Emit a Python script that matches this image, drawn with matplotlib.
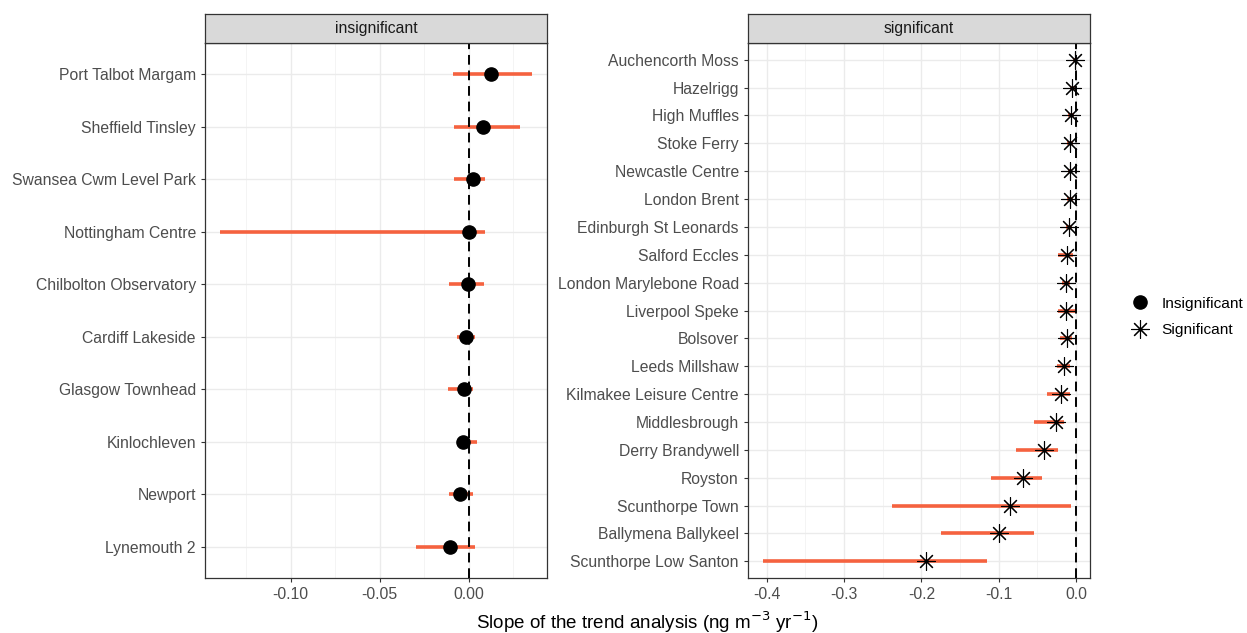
import numpy as np
import matplotlib
matplotlib.use('Agg')
import matplotlib.pyplot as plt
from matplotlib.lines import Line2D

plt.rcParams['font.family'] = ['Liberation Sans', 'DejaVu Sans']

# Insignificant sites (top to bottom)
insig_sites = ['Port Talbot Margam', 'Sheffield Tinsley', 'Swansea Cwm Level Park',
               'Nottingham Centre', 'Chilbolton Observatory', 'Cardiff Lakeside',
               'Glasgow Townhead', 'Kinlochleven', 'Newport', 'Lynemouth 2']
insig_slope = [0.0128, 0.0083, 0.0022, 0.0004, -0.0004, -0.0013, -0.0026, -0.0032, -0.0047, -0.0105]
insig_lo = [-0.0088, -0.0083, -0.0083, -0.1397, -0.0112, -0.0067, -0.0116, -0.0064, -0.0112, -0.0298]
insig_hi = [0.0354, 0.0288, 0.0092, 0.0092, 0.0086, 0.0034, 0.0026, 0.0049, 0.0022, 0.0034]

# Significant sites (top to bottom)
sig_sites = ['Auchencorth Moss', 'Hazelrigg', 'High Muffles', 'Stoke Ferry',
             'Newcastle Centre', 'London Brent', 'Edinburgh St Leonards', 'Salford Eccles',
             'London Marylebone Road', 'Liverpool Speke', 'Bolsover', 'Leeds Millshaw',
             'Kilmakee Leisure Centre', 'Middlesbrough', 'Derry Brandywell', 'Royston',
             'Scunthorpe Town', 'Ballymena Ballykeel', 'Scunthorpe Low Santon']
sig_slope = [-0.002, -0.005, -0.0065, -0.008, -0.008, -0.008, -0.009, -0.012,
             -0.013, -0.013, -0.012, -0.0155, -0.020, -0.026, -0.041, -0.069,
             -0.086, -0.100, -0.194]
sig_lo = [-0.004, -0.008, -0.010, -0.012, -0.011, -0.012, -0.013, -0.023,
          -0.018, -0.023, -0.021, -0.025, -0.038, -0.055, -0.077, -0.110,
          -0.238, -0.174, -0.404]
sig_hi = [-0.0005, -0.002, -0.003, -0.004, -0.005, -0.004, -0.005, -0.0035,
          -0.008, -0.001, -0.005, -0.008, -0.008, -0.0155, -0.024, -0.0445,
          -0.007, -0.054, -0.115]

W, H = 1247, 633
fig = plt.figure(figsize=(W / 100, H / 100), dpi=100)

err_col = '#F5623F'
tick_col = '#4D4D4D'
fs = 11.3


def panel(x0, x1, sites, slope, lo, hi, marker, ms, mew, xlim, major, minor, fmt, title):
    ax = fig.add_axes([x0 / W, 1 - 578 / H, (x1 - x0) / W, (578 - 43) / H])
    n = len(sites)
    y = np.arange(n)[::-1]
    ax.set_xlim(*xlim)
    ax.set_ylim(-0.6, n - 0.4)
    ax.set_xticks(major)
    ax.set_xticks(minor, minor=True)
    ax.set_xticklabels([fmt.format(v) for v in major])
    ax.set_yticks(y)
    ax.set_yticklabels(sites)
    ax.grid(which='major', color='#EBEBEB', lw=1.0, zorder=0)
    ax.grid(which='minor', axis='x', color='#F2F2F2', lw=0.6, zorder=0)
    ax.set_axisbelow(True)
    ax.hlines(y, lo, hi, color=err_col, lw=2.6, zorder=2)
    ax.axvline(0, color='black', lw=1.4, ls=(0, (5, 3)), zorder=3)
    if marker == 'o':
        ax.plot(slope, y, 'o', color='black', ms=ms, ls='none', zorder=4)
    else:
        ax.plot(slope, y, ls='none', marker=marker, ms=ms, mec='black', mfc='none',
                mew=mew, zorder=4)
    for s in ax.spines.values():
        s.set_color('#333333')
        s.set_linewidth(0.9)
    ax.tick_params(axis='both', which='major', length=3, color='#333333',
                   labelcolor=tick_col, labelsize=fs)
    ax.tick_params(axis='x', which='minor', length=0)
    # facet strip
    st = fig.add_axes([x0 / W, 1 - 43 / H, (x1 - x0) / W, 29 / H])
    st.set_facecolor('#D9D9D9')
    st.set_xticks([])
    st.set_yticks([])
    for s in st.spines.values():
        s.set_color('#333333')
        s.set_linewidth(0.9)
    st.text(0.5, 0.5, title, ha='center', va='center', fontsize=fs, color='#1A1A1A',
            transform=st.transAxes)
    return ax


panel(205, 547, insig_sites, insig_slope, insig_lo, insig_hi, 'o', 9.5, 1,
      (-0.148, 0.044), [-0.10, -0.05, 0.00], [-0.125, -0.075, -0.025, 0.025],
      '{:.2f}', 'insignificant')
panel(748, 1090, sig_sites, sig_slope, sig_lo, sig_hi, (8, 2, 0), 13, 0.8,
      (-0.424, 0.018), [-0.4, -0.3, -0.2, -0.1, 0.0], [-0.35, -0.25, -0.15, -0.05],
      '{:.1f}', 'significant')

fig.text(647 / W, 1 - 622 / H, 'Slope of the trend analysis (ng m$^{-3}$ yr$^{-1}$)',
         ha='center', va='center', fontsize=13.5, color='black')

handles = [Line2D([], [], ls='none', marker='o', color='black', ms=9.5),
           Line2D([], [], ls='none', marker=(8, 2, 0), mec='black', mfc='none', ms=13, mew=0.8)]
fig.legend(handles, ['Insignificant', 'Significant'], loc='center left',
           bbox_to_anchor=(1115 / W, 1 - 317 / H), frameon=False, fontsize=11.1,
           handletextpad=0.6, labelspacing=0.8, handlelength=1.5)

fig.savefig('out.png', dpi=100)
